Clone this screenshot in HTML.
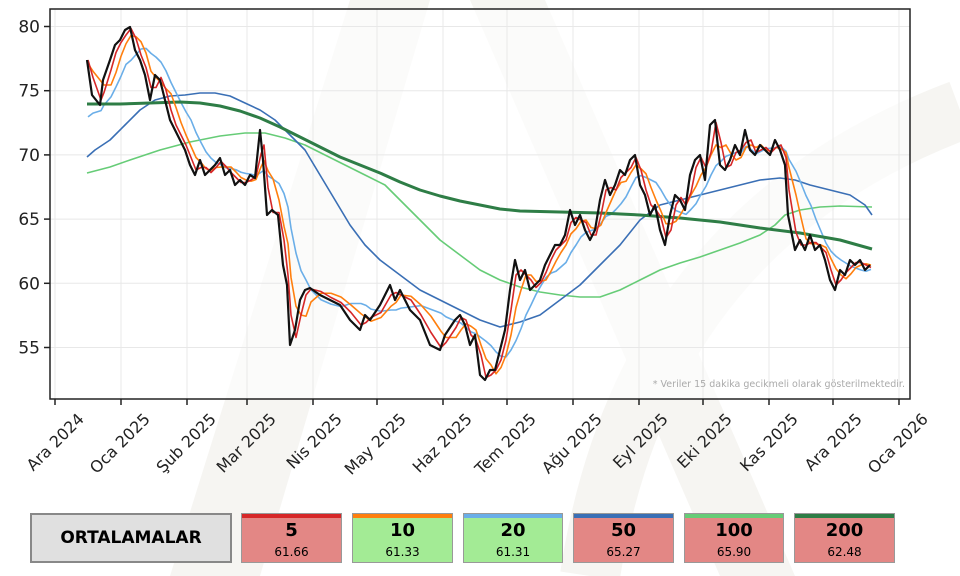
<!DOCTYPE html>
<html><head><meta charset="utf-8"><style>
body{margin:0;width:960px;height:576px;background:#fff;overflow:hidden;font-family:"DejaVu Sans","Liberation Sans",sans-serif}
.box{position:absolute;top:513px;height:50px;border:1px solid #999;box-sizing:border-box;text-align:center}
.box .s{height:4px}
.box b{display:block;font-size:18px;line-height:20px;margin-top:3px}
.box span{font-size:12px;line-height:16px}
</style></head><body>
<svg id="c" width="960" height="576" style="position:absolute;left:0;top:0"></svg>
<div class="box" style="left:30px;width:202px;background:#e0e0e0;border:2px solid #888;font-weight:bold;font-size:17px;line-height:46px">ORTALAMALAR</div>
<div class="box" style="left:241px;width:101px;background:#e38785"><div class="s" style="background:#d62728"></div><b>5</b><span>61.66</span></div>
<div class="box" style="left:352px;width:101px;background:#a3eb95"><div class="s" style="background:#ff7f0e"></div><b>10</b><span>61.33</span></div>
<div class="box" style="left:463px;width:100px;background:#a3eb95"><div class="s" style="background:#6aaee8"></div><b>20</b><span>61.31</span></div>
<div class="box" style="left:573px;width:101px;background:#e38785"><div class="s" style="background:#3a6fb5"></div><b>50</b><span>65.27</span></div>
<div class="box" style="left:684px;width:100px;background:#e38785"><div class="s" style="background:#66cc77"></div><b>100</b><span>65.90</span></div>
<div class="box" style="left:794px;width:101px;background:#e38785"><div class="s" style="background:#2e7d46"></div><b>200</b><span>62.48</span></div>
<script>
const svg=document.getElementById('c');let h='';
const L=50,T=9,R=910,B=399;
const Y=v=>26.5+(80-v)*12.84;
h+=`<g fill="#f6f5f2"><polygon points="170,576 260,576 430,0 350,0"/><polygon points="470,0 545,0 795,576 720,576"/></g>`;
h+=`<path d="M590,576 C620,380 720,200 960,110" fill="none" stroke="#f6f5f2" stroke-width="60"/>`;
h+=`<rect x="${L}" y="${T}" width="${R-L}" height="${B-T}" fill="#fff" opacity="0.6"/>`;
const xt=[55,121,187,247,313,377,443,507,573,639,703,769,833,899];
const xl=["Ara 2024","Oca 2025","Şub 2025","Mar 2025","Nis 2025","May 2025","Haz 2025","Tem 2025","Ağu 2025","Eyl 2025","Eki 2025","Kas 2025","Ara 2025","Oca 2026"];
xt.forEach((x,i)=>{h+=`<line x1="${x}" y1="${T}" x2="${x}" y2="${B}" stroke="#e8e8e8"/><line x1="${x}" y1="${B}" x2="${x}" y2="${B+6}" stroke="#222" stroke-width="1.5"/>`;
const ax=x+30,ay=B+21;
h+=`<text x="${ax}" y="${ay}" text-anchor="end" font-size="16" fill="#222" transform="rotate(-45 ${ax} ${ay})">${xl[i]}</text>`;});
[80,75,70,65,60,55].forEach(v=>{const y=Y(v);h+=`<line x1="${L}" y1="${y}" x2="${R}" y2="${y}" stroke="#e8e8e8"/><line x1="${L-6}" y1="${y}" x2="${L}" y2="${y}" stroke="#222" stroke-width="1.5"/><text x="${L-10}" y="${y+6}" text-anchor="end" font-size="17" fill="#222">${v}</text>`;});
const blk=[[87,60],[92,95],[100,105],[103,80],[110,60],[115,45],[120,40],[125,30],[130,27],[135,50],[140,60],[145,75],[150,100],[155,75],[160,80],[165,100],[170,120],[175,130],[180,140],[185,150],[190,165],[195,175],[200,160],[205,175],[210,170],[215,165],[220,158],[225,175],[230,170],[235,185],[240,180],[245,185],[250,175],[255,178],[260,130],[263,160],[267,215],[272,210],[278,215],[283,265],[287,285],[290,345],[295,330],[300,300],[305,290],[310,288],[320,295],[330,300],[340,305],[350,320],[360,330],[365,315],[370,320],[380,305],[390,285],[395,300],[400,290],[410,310],[420,320],[430,345],[440,350],[445,335],[455,320],[460,315],[465,325],[470,345],[475,335],[480,375],[485,380],[490,370],[495,370],[500,350],[505,330],[510,290],[515,260],[520,280],[525,270],[530,290],[535,285],[540,280],[545,265],[550,255],[555,245],[560,245],[565,235],[570,210],[575,225],[580,215],[585,230],[590,240],[595,230],[600,200],[605,180],[610,195],[615,185],[620,170],[625,175],[630,160],[635,155],[640,185],[645,195],[650,215],[655,205],[660,230],[665,245],[670,215],[675,195],[680,200],[685,210],[690,175],[695,160],[700,155],[705,180],[710,125],[715,120],[720,165],[725,170],[730,160],[735,145],[740,155],[745,130],[750,150],[755,155],[760,145],[765,150],[770,155],[775,140],[780,150],[785,165],[788,215],[795,250],[800,240],[805,250],[810,235],[815,250],[820,245],[825,260],[830,280],[835,290],[840,270],[845,275],[850,260],[855,265],[860,260],[865,270],[870,265]];
const sma=(n,init)=>blk.map((p,i)=>{let s=0,c=0;for(let k=i-n+1;k<=i;k++){if(k>=0){s+=blk[k][1];c++}else if(init!=null){s+=init;c++}}return [p[0]+1,s/c]});
const pl=(pts,col,w)=>{h+=`<polyline fill="none" stroke="${col}" stroke-width="${w}" stroke-linejoin="round" points="${pts.map(p=>p.join(',')).join(' ')}"/>`;};
pl([[87,173],[110,167],[130,160],[160,150],[190,142],[220,136],[245,133],[265,133],[285,138],[305,145],[325,155],[345,165],[365,175],[385,185],[400,200],[420,220],[440,240],[460,255],[480,270],[500,280],[520,287],[540,292],[560,295],[580,297],[600,297],[620,290],[640,280],[660,270],[680,263],[700,257],[720,250],[740,243],[760,235],[775,225],[785,215],[800,210],[820,207],[840,206],[872,207]],"#66cc77",1.6);
pl([[87,157],[95,150],[110,140],[125,125],[140,110],[155,100],[170,96],[185,95],[200,93],[215,93],[230,96],[245,103],[260,110],[275,120],[290,135],[305,150],[320,175],[335,200],[350,225],[365,245],[380,260],[400,275],[420,290],[440,300],[460,310],[480,320],[500,327],[520,322],[540,315],[560,300],[580,285],[600,265],[620,245],[640,220],[660,205],[680,200],[700,195],[720,190],[740,185],[760,180],[780,178],[795,180],[810,185],[830,190],[850,195],[865,205],[872,215]],"#3a6fb5",1.6);
pl(sma(8,125),"#6aaee8",1.6);
pl([[87,104],[120,104],[150,103],[180,102],[200,103],[220,106],[240,111],[260,118],[280,127],[300,137],[320,147],[340,157],[360,165],[380,173],[400,182],[420,190],[440,196],[460,201],[480,205],[500,209],[520,211],[560,212],[600,213],[640,215],[680,218],[720,222],[760,228],[800,233],[840,240],[872,249]],"#2e7d46",3);
pl(sma(4,65),"#ff7f0e",1.6);
pl(sma(2),"#d62728",1.6);
pl(blk,"#111",2.2);
h+=`<rect x="${L}" y="${T}" width="${R-L}" height="${B-T}" fill="none" stroke="#222" stroke-width="1.5"/>`;
h+=`<text x="905" y="387" text-anchor="end" font-size="9.5" fill="#aaa">* Veriler 15 dakika gecikmeli olarak gösterilmektedir.</text>`;
svg.innerHTML=h;
</script>
</body></html>
